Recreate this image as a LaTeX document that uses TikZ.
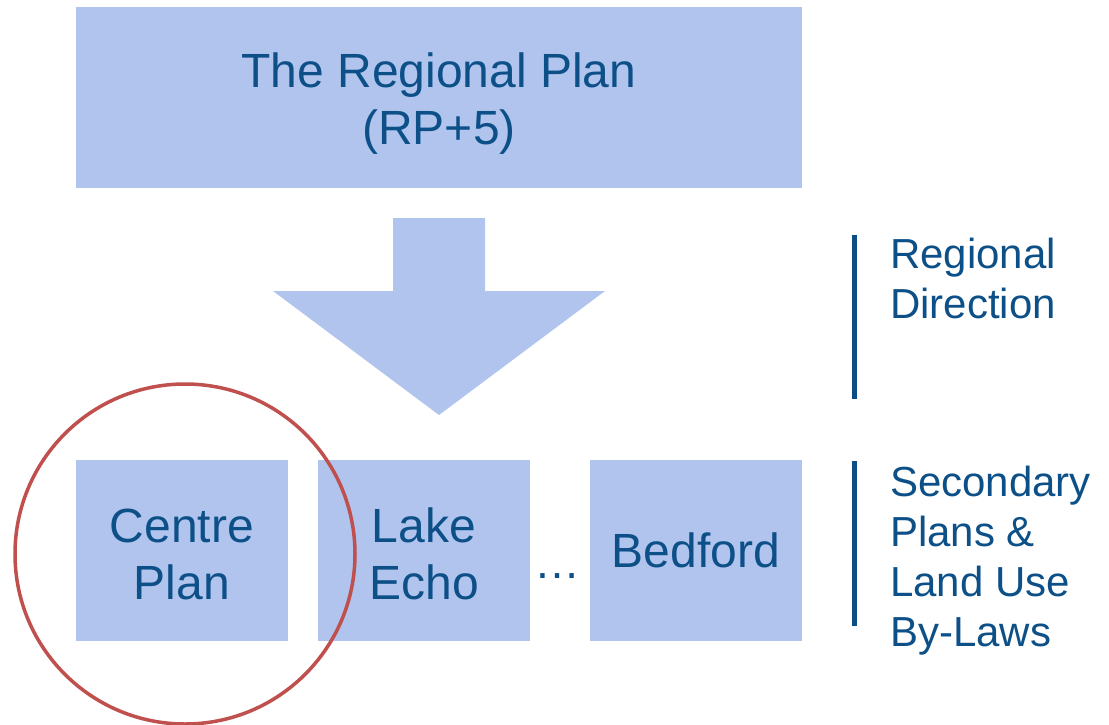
\documentclass[tikz,border=0pt]{standalone}
\usepackage{fontspec}
\setmainfont{Liberation Sans}
\definecolor{boxfill}{HTML}{B0C4EE}
\definecolor{txt}{HTML}{0D5088}
\definecolor{bar}{HTML}{0B4E86}
\definecolor{ring}{HTML}{C0504D}
\begin{document}
\begin{tikzpicture}[x=1pt,y=-1pt,
  plan/.style={fill=boxfill, draw=none, text=txt, align=center, inner sep=0pt,
    font=\fontsize{48}{57}\selectfont},
  planlabel/.style={text=txt, align=center, inner sep=0pt,
    font=\fontsize{48}{57}\selectfont},
  side/.style={text=txt, align=left, anchor=north west, inner sep=0pt,
    font=\fontsize{42}{50}\selectfont},
  sidebar/.style={draw=bar, line width=5pt}]
\useasboundingbox (0,0) rectangle (1109,724);
% top box
\node[plan, minimum width=726pt, minimum height=181pt] (rp) at (439,97.5) {};
\node[planlabel] (rptext) at (439,104) {The Regional Plan\\(RP+5)};
% arrow
\fill[boxfill] (393,218) -- (485,218) -- (485,291) -- (605,291) -- (439,415) -- (273,291) -- (393,291) -- cycle;
% bottom boxes
\node[plan, minimum width=212pt, minimum height=181pt] (cp) at (182,550.5) {};
\node[planlabel] (cptext) at (182,554) {Centre\\Plan};
\node[plan, minimum width=212pt, minimum height=181pt] (le) at (424,550.5) {};
\node[planlabel] (letext) at (424,554) {Lake\\Echo};
\node[plan, minimum width=212pt, minimum height=181pt] (bf) at (696,550.5) {Bedford};
\node[text=txt, inner sep=0pt, font=\fontsize{46}{50}\selectfont] (dots) at (557,576) {\ldots};
% circle
\node[draw=ring, line width=3.5pt, circle, minimum size=340pt, inner sep=0pt] (ring) at (185,554) {};
% side labels
\draw[sidebar] (854,235) -- (854,399);
\draw[sidebar] (854,461) -- (854,626);
\node[side] (rd) at (890,238) {Regional\\Direction};
\node[side] (sp) at (890,466) {Secondary\\Plans \&\\Land Use\\By-Laws};
\end{tikzpicture}
\end{document}
